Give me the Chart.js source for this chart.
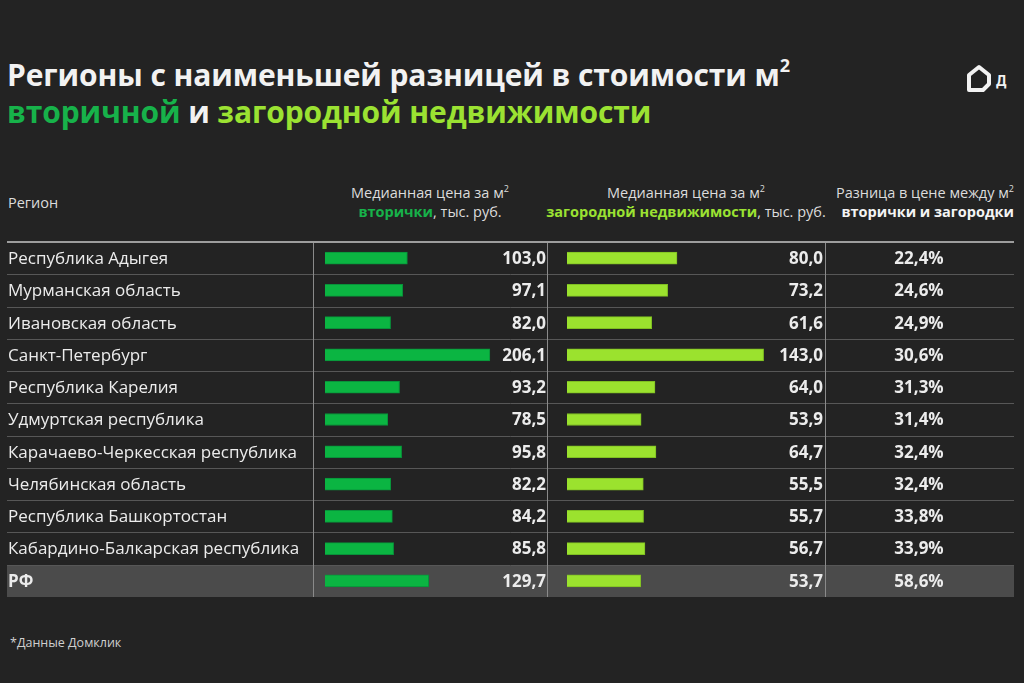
<!DOCTYPE html>
<html lang="ru">
<head>
<meta charset="utf-8">
<script src="https://cdn.jsdelivr.net/npm/chart.js@4.4.1/dist/chart.umd.min.js"></script>
<style>
  html, body { margin: 0; padding: 0; }
  body { width: 1024px; height: 683px; background: #232323; position: relative; overflow: hidden; font-family: "Open Sans", sans-serif; color: #ececec; }
  #title { position: absolute; left: 7px; top: 56px; font-family: "Open Sans", sans-serif; font-weight: 700; font-size: 30px; line-height: 37px; color: #f2f2f2; letter-spacing: -0.1px; white-space: nowrap; }
  #title sup { font-size: 18px; line-height: 0; vertical-align: 14px; }
  .g1 { color: #17b24a; }
  .g2 { color: #9be232; }
  .hd { position: absolute; font-size: 14.5px; line-height: 19px; color: #dcdcdc; white-space: nowrap; }
  .hd sup { font-size: 9px; line-height: 0; vertical-align: 6px; }
  .hd b { font-weight: 700; }
  #logo { position: absolute; left: 966px; top: 64px; }
  #note { position: absolute; left: 10px; top: 634px; font-size: 12.5px; color: #cfcfcf; }
  canvas { position: absolute; left: 0; top: 0; }
</style>
</head>
<body>
<div id="title">Регионы с наименьшей разницей в стоимости м<sup>2</sup><br><span class="g1">вторичной</span> и <span class="g2">загородной недвижимости</span></div>
<svg id="logo" width="50" height="30" viewBox="0 0 50 30">
  <path d="M3 11 L13 3 L23 11 L23 20 L17 26 L3 26 Z" fill="none" stroke="#f2f2f2" stroke-width="4" stroke-linejoin="round"/>
  <text x="30" y="22" font-family="Roboto" font-weight="700" font-size="14" fill="#f2f2f2">Д</text>
</svg>
<div class="hd" style="left:8px; top:193px;">Регион</div>
<div class="hd" style="left:313px; width:234px; top:183px; text-align:center;">Медианная цена за м<sup>2</sup><br><b class="g1">вторички</b>, тыс. руб.</div>
<div class="hd" style="left:537px; width:298px; top:183px; text-align:center;">Медианная цена за м<sup>2</sup><br><b class="g2">загородной недвижимости</b>, тыс. руб.</div>
<div class="hd" style="left:790px; width:224px; top:183px; text-align:right;">Разница в цене между м<sup>2</sup><br><b style="color:#f4f4f4">вторички и загородки</b></div>
<div id="note">*Данные Домклик</div>
<canvas id="grafico_vtorichka" width="1024" height="683"></canvas>
<canvas id="grafico_zagorod" width="1024" height="683"></canvas>
<script>
// dados
const regioes = [
  'Республика Адыгея',
  'Мурманская область',
  'Ивановская область',
  'Санкт-Петербург',
  'Республика Карелия',
  'Удмуртская республика',
  'Карачаево-Черкесская республика',
  'Челябинская область',
  'Республика Башкортостан',
  'Кабардино-Балкарская республика',
  'РФ',
];
const precoVtorichka = [103.0, 97.1, 82.0, 206.1, 93.2, 78.5, 95.8, 82.2, 84.2, 85.8, 129.7];
const precoZagorod = [80.0, 73.2, 61.6, 143.0, 64.0, 53.9, 64.7, 55.5, 55.7, 56.7, 53.7];
const diferenca = [22.4, 24.6, 24.9, 30.6, 31.3, 31.4, 32.4, 32.4, 33.8, 33.9, 58.6];

const fmt = v => v.toFixed(1).replace('.', ',');

const TOP = 242, BOTTOM = 597, LEFT = 7, RIGHT = 1014;

// tabela desenhada por baixo das barras
const tabelaPlugin = {
  id: 'tabela',
  beforeDatasetsDraw(chart) {
    const ctx = chart.ctx;
    const y = chart.scales.y;
    const n = regioes.length;
    const half = (y.getPixelForValue(1) - y.getPixelForValue(0)) / 2;
    ctx.save();
    // linha RF
    const yRf = y.getPixelForValue(n - 1);
    ctx.fillStyle = '#4b4b4b';
    ctx.fillRect(LEFT, yRf - half + 1, RIGHT - LEFT, half * 2 - 1);
    // separadores
    ctx.strokeStyle = '#575757';
    ctx.lineWidth = 1;
    for (let i = 1; i < n; i++) {
      const yy = Math.round(y.getPixelForValue(i) - half) + 0.5;
      ctx.beginPath(); ctx.moveTo(LEFT, yy); ctx.lineTo(RIGHT, yy); ctx.stroke();
    }
    ctx.strokeStyle = '#8a8a8a';
    [313.5, 547.5, 825.5].forEach(x => {
      ctx.beginPath(); ctx.moveTo(x, TOP); ctx.lineTo(x, BOTTOM); ctx.stroke();
    });
    ctx.lineWidth = 2;
    ctx.strokeStyle = '#9d9d9d';
    ctx.beginPath(); ctx.moveTo(LEFT, TOP); ctx.lineTo(RIGHT, TOP); ctx.stroke();
    // textos
    ctx.textBaseline = 'middle';
    regioes.forEach((r, i) => {
      const yy = y.getPixelForValue(i) + 1;
      const rf = i === n - 1;
      ctx.fillStyle = '#ececec';
      ctx.font = (rf ? '700 ' : '400 ') + '17px "Open Sans"';
      ctx.textAlign = 'left';
      ctx.fillText(r, 8, yy);
      ctx.font = '700 17px "Open Sans"';
      ctx.textAlign = 'right';
      ctx.fillText(fmt(precoVtorichka[i]), 546, yy);
      ctx.fillText(fmt(precoZagorod[i]), 823, yy);
      ctx.textAlign = 'center';
      ctx.fillText(fmt(diferenca[i]) + '%', 919, yy);
    });
    ctx.restore();
  }
};

const escalas = (max) => ({
  x: { display: false, min: 0, max: max },
  y: { display: false, type: 'category', labels: regioes, offset: true }
});

const config_vtorichka = {
  type: 'bar',
  data: {
    labels: regioes,
    datasets: [{
      data: precoVtorichka,
      backgroundColor: '#0bb542',
      borderColor: '#08923a',
      borderWidth: 1,
      barThickness: 12,
    }]
  },
  options: {
    indexAxis: 'y',
    responsive: false,
    animation: false,
    layout: { padding: { left: 325, right: 1024 - 545, top: TOP, bottom: 683 - BOTTOM } },
    scales: escalas(275),
    plugins: { legend: { display: false }, tooltip: { enabled: false } }
  },
  plugins: [tabelaPlugin]
};

const config_zagorod = {
  type: 'bar',
  data: {
    labels: regioes,
    datasets: [{
      data: precoZagorod,
      backgroundColor: '#9be22e',
      borderColor: '#7fbf22',
      borderWidth: 1,
      barThickness: 12,
    }]
  },
  options: {
    indexAxis: 'y',
    responsive: false,
    animation: false,
    layout: { padding: { left: 567, right: 1024 - 787, top: TOP, bottom: 683 - BOTTOM } },
    scales: escalas(160),
    plugins: { legend: { display: false }, tooltip: { enabled: false } }
  }
};

new Chart(document.getElementById('grafico_vtorichka'), config_vtorichka);
new Chart(document.getElementById('grafico_zagorod'), config_zagorod);
</script>
</body>
</html>
